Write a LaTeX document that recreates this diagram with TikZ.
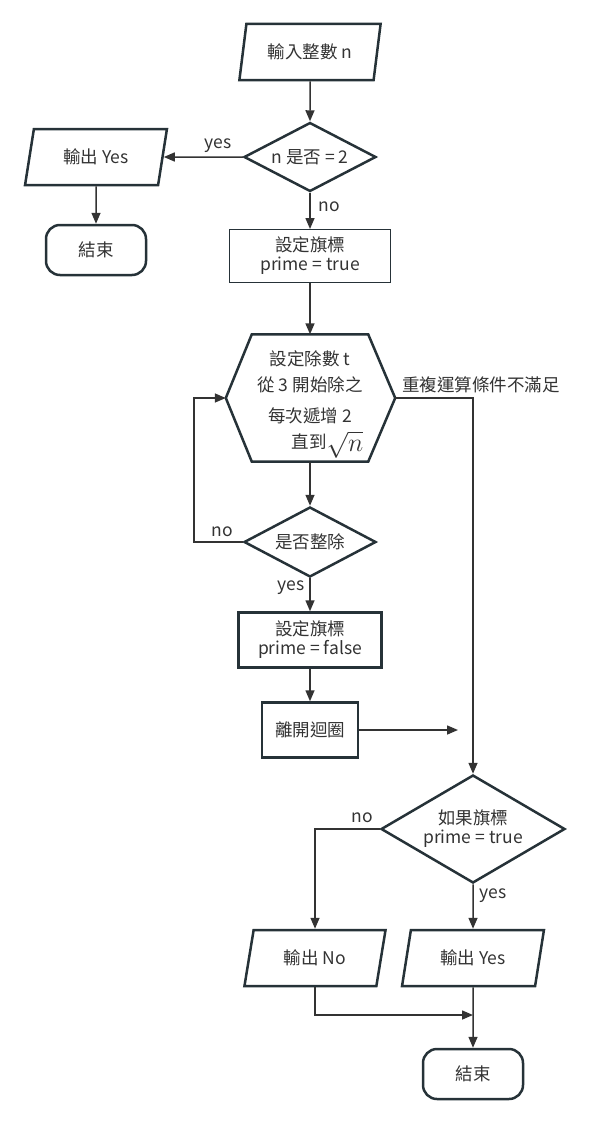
\documentclass[tikz,border=0pt]{standalone}
\usepackage{fontspec}
\usepackage{graphicx}
\setmainfont{Noto Sans CJK TC}
\usetikzlibrary{shapes.geometric,arrows.meta}
\definecolor{line}{HTML}{333333}
\definecolor{frame}{HTML}{263238}
\definecolor{ink}{HTML}{333333}

\begin{document}
\begin{tikzpicture}[x=1pt, y=-1pt, font=\fontsize{17.5}{19}\selectfont, text=ink,
		io/.style={trapezium, trapezium left angle=74, trapezium right angle=106, trapezium stretches=true, draw=frame, line width=2.5pt, minimum width=142pt, minimum height=56pt, inner sep=0pt},
		test/.style={diamond, aspect=1.8, draw=frame, line width=2.5pt, inner sep=0pt, align=center},
		proc/.style={rectangle, draw=frame, line width=2.5pt, align=center, inner sep=0pt},
		stop/.style={rectangle, rounded corners=14pt, draw=frame, line width=2.5pt, minimum width=100pt, minimum height=50pt},
		arr/.style={draw=line, line width=1.5pt, -{Triangle[length=11pt,width=9pt]}}]
	\useasboundingbox (0,0) rectangle (596,1124);
	
	%start
	\node[io] (in) at (310, 52){輸入整數 n};
	\node[test, minimum width=132pt, minimum height=69pt] (eq2) at (310, 157){n 是否 = 2};
	\node[io] (outL) at (96, 157){輸出 Yes};
	\node[stop] (endL) at (96, 250){結束};
	\node[proc, line width=1pt, minimum width=161pt, minimum height=53pt] (flagT) at (310, 256){設定旗標\\prime = true};
	
	%loop
	\node[minimum width=116pt, minimum height=127pt, inner sep=0pt] (hex) at (310, 398){};
	\draw[draw=frame, line width=2.5pt, line join=miter] (hex.north west) -- (hex.north east) -- ([xshift=27pt]hex.east) coordinate (hexR) -- (hex.south east) -- (hex.south west) -- ([xshift=-26pt]hex.west) coordinate (hexL) -- cycle;
	\node[align=center, inner sep=0pt, font=\fontsize{17.5}{26}\selectfont] (hexText) at (310, 400){設定除數 t\\從 3 開始除之\\[5pt]每次遞增 2\\\hspace*{35pt}直到\smash{\raisebox{-3pt}{\scalebox{1.5}{$\sqrt{n}$}}}};
	\node[test, minimum width=132pt, minimum height=70pt] (div) at (310, 542){是否整除};
	\node[proc, minimum width=143pt, minimum height=55pt] (flagF) at (310, 640){設定旗標\\prime = false};
	\node[proc, minimum width=96pt, minimum height=55pt] (brk) at (310, 730){離開迴圈};
	\coordinate (brkEnd) at (458, 730);
	
	%result
	\node[test, minimum width=184pt, minimum height=108pt] (isP) at (473, 829){如果旗標\\prime = true};
	\node[io] (outN) at (315, 958){輸出 No};
	\node[io] (outY) at (473, 958){輸出 Yes};
	\coordinate (join) at (473, 1015);
	\node[stop] (endR) at (473, 1074){結束};
	
	\foreach \a/\b in {in/eq2, outL/endL, eq2/flagT, flagT/hex, hex/div, div/flagF, flagF/brk, isP/outY, outY/endR}{
		\draw[arr] (\a.south) -- (\b.north);
	}
	\draw[arr] (eq2.west) -- (outL.east);
	\draw[arr] (brk.east) -- (brkEnd);
	\draw[arr] (div.west) -- ++(-49, 0) |- (hexL);
	\draw[arr] (hexR) -| (isP.north);
	\draw[arr] (isP.west) -| (outN.north);
	\draw[arr] (outN.south) |- (join);
	
	%labels
	\node (yes1) at (218, 146){yes};
	\node (no1) at (329, 207){no};
	\node (no2) at (222, 532){no};
	\node (yes2) at (291, 588){yes};
	\node (cond) at (481, 385){重複運算條件不滿足};
	\node (no3) at (362, 818){no};
	\node (yes3) at (493, 896){yes};
\end{tikzpicture}
\end{document}
